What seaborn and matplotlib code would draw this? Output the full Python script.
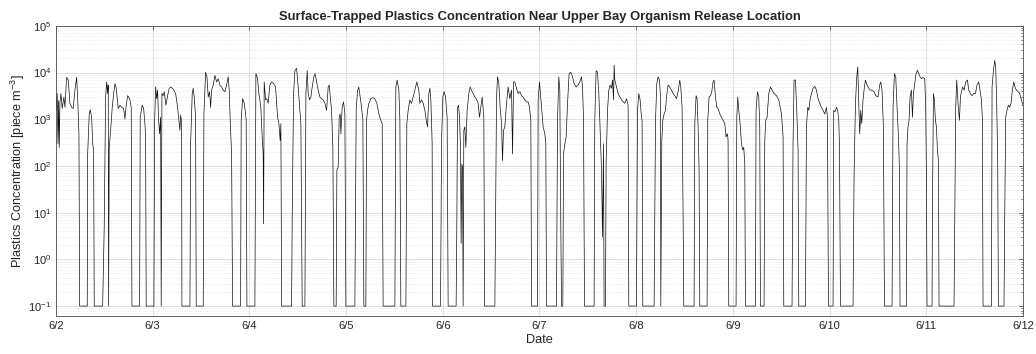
import numpy as np
import pandas as pd
import seaborn as sns
import matplotlib
matplotlib.use('Agg')
import matplotlib.pyplot as plt
from matplotlib.ticker import LogLocator, NullFormatter

# hours since 6/2 00:00 and surface-trapped plastics concentration [piece m^-3]
hours = [
    0.00, 0.17, 0.32, 0.50, 0.67, 0.82, 0.99, 1.24, 1.56, 1.98, 2.23, 2.65, 3.05, 3.47, 3.90, 4.29, 4.71, 5.14, 5.38, 5.71, 5.88,
    7.77, 7.86, 8.26, 8.51, 8.86, 9.11, 9.35, 9.50,
    11.59, 11.98, 12.33, 12.58, 12.83, 12.98, 13.07, 13.22, 13.57, 13.97, 14.32, 14.64, 14.96, 15.46, 15.88, 16.30, 16.80, 17.12, 17.44, 17.79, 18.29, 18.68, 18.86,
    20.77, 20.91, 21.41, 21.76, 22.08, 22.25, 22.40,
    24.31, 24.49, 24.74, 24.99, 25.23, 25.48, 25.73, 25.98, 26.12, 26.30, 26.62, 26.87, 27.29, 27.71, 28.11, 28.53, 29.10, 29.70, 30.19, 30.59, 30.76, 30.94, 31.19, 31.26,
    33.25, 33.42, 33.82, 34.06, 34.31, 34.66, 34.81,
    36.55, 36.72, 37.14, 37.47, 37.79, 38.13, 38.38, 38.63, 39.03, 39.45, 39.87, 40.27, 40.69, 41.11, 41.51, 41.93, 42.35, 42.75, 43.00, 43.24, 43.59, 43.84,
    45.82, 45.97, 46.32, 46.65, 46.97, 47.21, 47.39,
    49.37, 49.62, 50.04, 50.36, 50.61, 50.86, 51.18, 51.43, 51.53, 51.68, 52.02, 52.35, 52.67, 53.09, 53.51, 54.01, 54.50, 55.00, 55.33, 55.65, 55.82, 56.00,
    58.48, 58.63, 58.97, 59.30, 59.72, 60.11, 60.54, 60.78, 61.11,
    61.78, 62.03, 62.35, 62.60, 62.94, 63.27, 63.59, 64.01, 64.33, 64.68, 65.08, 65.50, 65.92, 66.32, 66.74, 67.16, 67.56, 67.81, 68.15, 68.40, 68.72, 68.97,
    69.54, 69.72, 70.04, 70.29, 70.54, 70.71, 71.03, 71.38, 71.70, 71.95,
    74.18, 74.51, 74.85, 75.17, 75.50, 75.84, 76.17, 76.41,
    76.91, 77.08, 77.33, 77.66, 78.15, 78.65, 79.14, 79.64, 80.14, 80.63, 80.96, 81.20,
    84.11, 84.35, 84.68, 85.10, 85.35, 85.59,
    86.84, 87.08, 87.41, 87.83, 88.25, 88.65, 89.07, 89.56, 90.06, 90.31, 90.73, 91.13, 91.55, 91.97, 92.22, 92.54, 92.79, 93.04, 93.36, 93.46,
    95.44, 95.69, 96.01, 96.34, 96.68, 97.08, 97.33,
    99.31, 99.48, 99.66, 99.91, 100.15, 100.40, 100.55, 100.73, 100.90, 101.05, 101.22, 101.47, 101.72, 102.04, 102.46, 102.79, 103.28, 103.78, 104.28, 104.77, 105.12, 105.44, 105.77, 106.19, 106.36,
    108.92, 109.09, 109.34, 109.59, 109.91, 110.23, 110.58, 110.82, 111.07, 111.40, 111.82, 112.22, 112.64, 113.06, 113.31, 113.56, 113.88, 114.30, 114.70, 115.12, 115.54, 115.94, 116.36, 116.78, 117.18, 117.52, 117.85, 118.02,
    119.51, 119.66, 120.00, 120.50, 120.90, 121.32, 121.57, 121.74,
    124.22, 124.47, 124.79, 125.04, 125.29, 125.47, 125.79, 125.96, 126.29, 126.61, 126.96, 127.35, 127.77, 128.19, 128.59, 129.09, 129.58, 130.00, 130.43, 130.67, 130.92, 131.17,
    133.55, 133.72, 134.05, 134.39, 134.72, 134.97, 135.21, 135.39, 135.64, 135.89, 136.03, 136.38, 136.53, 136.88, 137.20, 137.53, 137.87, 138.12, 138.37, 138.52, 138.69, 139.11, 139.51, 139.93, 140.35, 140.75, 141.17, 141.59, 141.99, 142.16,
    144.07, 144.32, 144.64, 144.97, 145.31, 145.46, 145.63,
    148.44, 148.79, 149.11, 149.43, 149.78, 150.03, 150.10, 150.35, 150.60, 150.92, 151.27, 151.51, 151.91, 152.33, 152.75, 153.15, 153.57, 153.99, 154.39, 154.81, 155.06, 155.39, 155.64, 155.81,
    158.36, 158.54, 158.86, 159.11, 159.36, 159.60, 159.78,
    161.59, 161.76, 162.08, 162.43, 162.75, 163.08, 163.32, 163.67, 164.00, 164.32, 164.74, 165.16, 165.56, 165.98, 166.30, 166.65, 166.80, 166.97,
    168.78, 168.96, 169.20, 169.45, 169.78, 170.12, 170.45, 170.69, 170.94, 171.11,
    173.59, 173.74, 174.09, 174.41, 174.66, 174.83,
    175.73, 175.90, 176.15, 176.48, 176.90, 177.32, 177.72, 178.21, 178.81, 179.38, 180.05, 180.45, 180.62,
    182.67, 182.92, 183.17, 183.52, 183.84, 184.17, 184.34,
    186.00, 186.25, 186.57, 186.82, 187.14, 187.49, 187.89, 188.31, 188.73, 189.13, 189.55, 189.97, 190.37, 190.79, 191.21, 191.46, 191.71,
    192.85, 193.02, 193.35, 193.69, 194.01, 194.26, 194.44, 194.69,
    197.81, 198.06, 198.41, 198.73, 198.98, 199.23, 199.47, 199.72, 199.97, 200.29, 200.54, 200.88, 201.28, 201.70, 202.12, 202.52, 203.01, 203.44, 204.01, 204.43, 204.68, 205.00, 205.35, 205.60,
    207.49, 207.74, 208.08, 208.41, 208.73, 209.08, 209.33, 209.47,
    211.06, 211.21, 211.46, 211.71, 211.96, 212.30, 212.55, 212.80, 213.12, 213.44, 213.79, 214.11, 214.43, 214.78, 215.18, 215.60, 215.85, 216.02, 216.17,
    217.41, 217.51, 217.76, 218.00, 218.25, 218.50, 218.75, 219.00, 219.15,
    222.87, 223.05, 223.29, 223.54, 223.86, 224.21, 224.46, 224.71, 225.03, 225.36, 225.78, 226.20, 226.52, 226.94, 227.34, 227.76, 228.18, 228.58, 229.00, 229.33, 229.67, 229.92, 230.07,
    232.16, 232.31, 232.65, 232.97, 233.21, 233.46, 233.71, 233.88,
    235.27, 235.44, 235.69, 236.01, 236.36, 236.68, 237.01, 237.35, 237.68, 238.00, 238.35, 238.75, 239.17, 239.59, 240.00,
]
conc = [
    3000, 1550, 3550, 300, 2500, 250, 2200, 3550, 1700, 3000, 1800, 7900, 6900, 2200, 1800, 1700, 4200, 7900, 3000, 490, 0.1,
    0.1, 170, 1300, 1600, 1100, 300, 220, 0.1,
    0.1, 4.9, 3000, 6300, 3550, 5400, 0.1, 250, 580, 1800, 3550, 5800, 4600, 1700, 2000, 1800, 1700, 1020, 2000, 3200, 2750, 1800, 0.1,
    0.1, 1100, 2000, 1700, 810, 420, 0.1,
    0.1, 950, 4900, 2750, 4200, 950, 490, 1100, 0.1, 3550, 3200, 3900, 2000, 3200, 4600, 4900, 4400, 3550, 1800, 810, 580, 1230, 870, 0.1,
    0.1, 300, 3550, 4600, 3000, 1100, 0.1,
    0.1, 1300, 10200, 8100, 3000, 3900, 1800, 4200, 5400, 8700, 6300, 7400, 5400, 4900, 4200, 3900, 5400, 8100, 4200, 950, 180, 0.1,
    0.1, 950, 2750, 2350, 1550, 950, 0.1,
    0.1, 9500, 7400, 3550, 2600, 1700, 420, 180, 5.8, 6300, 2600, 2750, 2200, 5400, 6300, 5800, 4900, 1100, 810, 350, 810, 0.1,
    0.1, 8.1, 3550, 11000, 12300, 4900, 1550, 810, 0.1,
    0.1, 3550, 11000, 3550, 2600, 3000, 4900, 8100, 9500, 6300, 4200, 3000, 2750, 2600, 2200, 1550, 4900, 5400, 2600, 1550, 250, 0.1,
    0.1, 81, 95, 1100, 1300, 490, 1800, 2350, 1300, 0.1,
    0.1, 1550, 4200, 4900, 3000, 1800, 950, 0.1,
    0.1, 950, 1550, 2200, 2750, 2900, 2750, 2200, 1300, 950, 810, 0.1,
    0.1, 4900, 6900, 4200, 950, 0.1,
    0.1, 810, 1550, 2600, 2200, 3000, 4200, 6300, 4200, 2200, 2600, 2200, 1550, 870, 690, 3550, 4600, 2600, 300, 0.1,
    0.1, 300, 3000, 3900, 3000, 1100, 0.1,
    0.1, 4.9, 1800, 2000, 1100, 250, 2.2, 110, 95, 0.1, 580, 690, 250, 1550, 3550, 4900, 3900, 3200, 2750, 2200, 1100, 1800, 3000, 1100, 0.1,
    0.1, 8.1, 3000, 8100, 5800, 1800, 810, 130, 580, 690, 2200, 4900, 2750, 4200, 180, 6300, 6300, 4600, 3550, 3900, 3200, 3000, 2600, 2350, 2350, 1800, 950, 0.1,
    0.1, 2600, 6300, 1800, 690, 490, 300, 0.1,
    0.1, 950, 8100, 4200, 4.9, 0.1, 0.1, 180, 300, 420, 2200, 9500, 10200, 8100, 5800, 4900, 5400, 6300, 8100, 4900, 1100, 0.1,
    0.1, 950, 11000, 10200, 3550, 950, 220, 81, 3.0, 300, 0.1, 0.1, 110, 1550, 4200, 5400, 4600, 6900, 2600, 14500, 6900, 4900, 3550, 3000, 2600, 2350, 2200, 2750, 2000, 0.1,
    0.1, 1550, 3550, 2600, 1100, 950, 0.1,
    0.1, 950, 5800, 8100, 6900, 3000, 0.1, 350, 950, 1300, 1550, 3000, 5400, 4900, 4200, 3550, 3200, 2750, 3900, 6900, 4900, 1800, 8.1, 0.1,
    0.1, 810, 3200, 2750, 690, 81, 0.1,
    0.1, 950, 3000, 3200, 3900, 6300, 6900, 3000, 1800, 1700, 1300, 1100, 950, 810, 420, 490, 350, 0.1,
    0.1, 1100, 3000, 1550, 810, 300, 220, 250, 110, 0.1,
    0.1, 1550, 3900, 3000, 690, 0.1,
    0.1, 350, 950, 1100, 3550, 4900, 4200, 3550, 3200, 2600, 1300, 420, 0.1,
    0.1, 300, 6900, 6900, 1550, 220, 0.1,
    0.1, 690, 1800, 1550, 2600, 3550, 4600, 5100, 4200, 2750, 2200, 1800, 1550, 1300, 1800, 1100, 0.1,
    0.1, 1550, 1450, 1800, 1550, 950, 300, 0.1,
    0.1, 58, 2200, 8100, 13200, 2200, 490, 1550, 810, 2600, 4200, 6900, 5400, 4600, 4200, 4200, 3900, 3200, 3000, 5400, 6300, 4200, 690, 0.1,
    0.1, 1800, 9500, 8100, 1800, 420, 81, 0.1,
    0.1, 300, 690, 950, 3000, 4200, 1100, 3550, 5800, 9500, 11200, 9500, 8100, 7400, 7800, 7400, 1800, 58, 0.1,
    0.1, 11, 3550, 2600, 950, 690, 220, 130, 0.1,
    0.1, 5.8, 1800, 6900, 2200, 950, 3000, 3900, 4900, 4200, 6300, 6900, 4200, 3550, 3200, 3550, 3550, 5400, 6300, 4200, 2600, 950, 0.1,
    0.1, 4900, 11200, 18200, 13200, 2200, 130, 0.1,
    0.1, 5.8, 1100, 1550, 2000, 1800, 2200, 4200, 6300, 4900, 4200, 3900, 3550, 2600, 2000,
]
tick_labels = ['6/2', '6/3', '6/4', '6/5', '6/6', '6/7', '6/8', '6/9', '6/10', '6/11', '6/12']
decades = [1e-1, 1e0, 1e1, 1e2, 1e3, 1e4, 1e5]
decade_labels = [r'$\mathregular{10^{-1}}$', r'$\mathregular{10^{0}}$', r'$\mathregular{10^{1}}$',
                 r'$\mathregular{10^{2}}$', r'$\mathregular{10^{3}}$', r'$\mathregular{10^{4}}$',
                 r'$\mathregular{10^{5}}$']

sns.set_style('white')
plt.rcParams['font.family'] = ['Liberation Sans', 'DejaVu Sans']
plt.rcParams['mathtext.fontset'] = 'custom'
plt.rcParams['mathtext.rm'] = 'Liberation Sans'
plt.rcParams['mathtext.it'] = 'Liberation Sans:italic'
plt.rcParams['mathtext.bf'] = 'Liberation Sans:bold'

start = pd.Timestamp('2020-06-02')
df = pd.DataFrame({'time': start + pd.to_timedelta(hours, unit='h'), 'conc': conc})

fig = plt.figure(figsize=(10.36, 3.54), dpi=100)
ax = fig.add_axes([0.054, 0.107, 0.9335, 0.820])
sns.lineplot(data=df, x='time', y='conc', color='#111111', linewidth=0.5,
             estimator=None, sort=False, ax=ax)

ax.set_yscale('log')
ax.set_ylim(0.061, 1e5)
ax.set_xlim(start, start + pd.Timedelta(days=10))
ax.set_xticks(pd.date_range(start, periods=len(tick_labels), freq='D'))
ax.set_xticklabels(tick_labels)
ax.set_yticks(decades)
ax.set_yticklabels(decade_labels)
ax.yaxis.set_minor_locator(LogLocator(base=10, subs=np.arange(2, 10), numticks=20))
ax.yaxis.set_minor_formatter(NullFormatter())

ax.grid(which='major', color='#dcdcdc', linewidth=0.6)
ax.grid(which='minor', axis='y', color='#e0e0e0', linestyle=':', linewidth=0.5)
ax.set_axisbelow(True)
ax.tick_params(which='both', direction='in', top=True, right=True,
               color='#4d4d4d', labelcolor='#262626', labelsize=8)
ax.tick_params(which='major', length=3, width=0.6)
ax.tick_params(which='minor', length=1.8, width=0.5)
for s in ax.spines.values():
    s.set_color('#4d4d4d')
    s.set_linewidth(0.6)

ax.set_title('Surface-Trapped Plastics Concentration Near Upper Bay Organism Release Location',
             fontsize=9.4, fontweight='bold', pad=4)
ax.set_xlabel('Date', fontsize=9.2, color='#262626', labelpad=2)
ax.set_ylabel(r'Plastics Concentration [piece m$^{-3}$]', fontsize=9.2, color='#262626', labelpad=1)

fig.savefig('out.png', dpi=100)
